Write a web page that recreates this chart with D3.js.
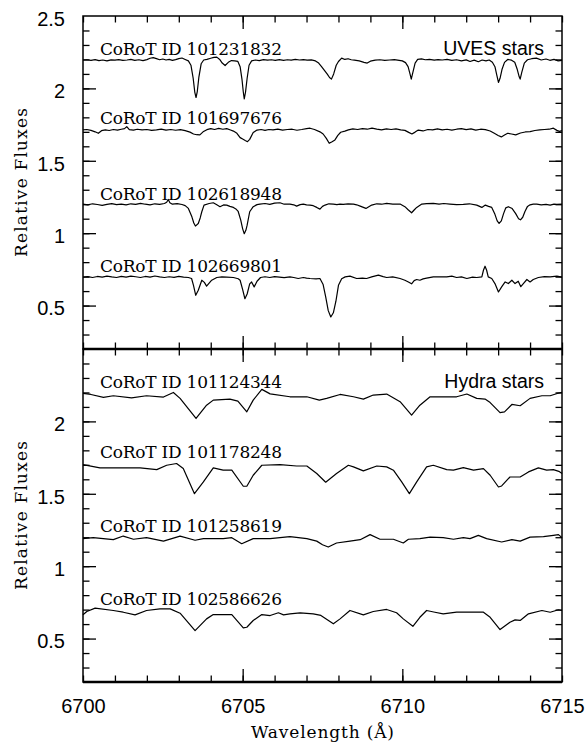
<!DOCTYPE html>
<meta charset="utf-8">
<style>
    body { margin: 0; background: #fff; }
    .tick line { stroke: #000; stroke-width: 1.3px; }
    .spec { fill: none; stroke: #000; stroke-width: 1.2px; stroke-linejoin: round; }
    .frame { fill: none; stroke: #000; stroke-width: 1.5px; }
    .ticklab text { font-family: "Liberation Sans", Arial, Helvetica, sans-serif; font-size: 20px; fill: #000; }
    .serif { font-family: "DejaVu Serif", "Liberation Serif", serif; font-size: 17px; fill: #000; }
    .panel-title { font-family: "Liberation Sans", Arial, Helvetica, sans-serif; font-size: 19.5px; fill: #000; }
</style>
<body>
<script src="https://cdn.jsdelivr.net/npm/d3@7"></script>
<script>

    // ---- data (wavelength in Angstrom, relative flux) ----
    var uvesIds = ["CoRoT ID 101231832", "CoRoT ID 101697676", "CoRoT ID 102618948", "CoRoT ID 102669801"];
    var hydraIds = ["CoRoT ID 101124344", "CoRoT ID 101178248", "CoRoT ID 101258619", "CoRoT ID 102586626"];

    var xTickLabels = [6700, 6705, 6710, 6715];
    var yTickLabelsTop = [0.5, 1, 1.5, 2, 2.5];
    var yTickLabelsBottom = [0.5, 1, 1.5, 2];

    var uves101231832 = [[6700.0,2.196],[6700.12,2.198],[6700.25,2.194],[6700.38,2.199],[6700.5,2.192],[6700.62,2.196],[6700.75,2.190],[6700.88,2.197],[6701.0,2.195],[6701.12,2.199],[6701.25,2.193],[6701.38,2.196],[6701.5,2.200],[6701.62,2.194],[6701.75,2.198],[6701.88,2.192],[6702.0,2.199],[6702.1,2.208],[6702.2,2.212],[6702.3,2.206],[6702.4,2.198],[6702.5,2.203],[6702.6,2.196],[6702.7,2.200],[6702.8,2.194],[6702.9,2.199],[6703.0,2.206],[6703.1,2.210],[6703.2,2.200],[6703.3,2.190],[6703.38,2.160],[6703.45,2.070],[6703.50,1.975],[6703.54,1.937],[6703.58,1.980],[6703.63,2.080],[6703.70,2.170],[6703.78,2.196],[6703.88,2.200],[6704.0,2.208],[6704.1,2.214],[6704.19,2.216],[6704.28,2.200],[6704.36,2.175],[6704.45,2.158],[6704.55,2.180],[6704.65,2.192],[6704.75,2.190],[6704.85,2.186],[6704.92,2.150],[6704.98,2.060],[6705.02,1.975],[6705.05,1.928],[6705.09,1.975],[6705.14,2.070],[6705.20,2.160],[6705.28,2.190],[6705.4,2.196],[6705.52,2.192],[6705.65,2.199],[6705.78,2.195],[6705.9,2.198],[6706.02,2.193],[6706.15,2.199],[6706.28,2.194],[6706.4,2.198],[6706.52,2.195],[6706.65,2.200],[6706.78,2.196],[6706.9,2.199],[6707.02,2.195],[6707.15,2.197],[6707.28,2.190],[6707.38,2.175],[6707.47,2.151],[6707.56,2.125],[6707.65,2.098],[6707.72,2.075],[6707.78,2.064],[6707.85,2.100],[6707.93,2.160],[6708.0,2.186],[6708.1,2.209],[6708.2,2.200],[6708.3,2.205],[6708.4,2.198],[6708.5,2.195],[6708.65,2.190],[6708.8,2.180],[6708.9,2.175],[6709.0,2.188],[6709.15,2.195],[6709.3,2.198],[6709.45,2.193],[6709.6,2.196],[6709.75,2.199],[6709.9,2.194],[6710.0,2.190],[6710.1,2.178],[6710.18,2.150],[6710.24,2.100],[6710.28,2.064],[6710.33,2.110],[6710.40,2.175],[6710.48,2.200],[6710.6,2.204],[6710.72,2.198],[6710.85,2.201],[6711.0,2.195],[6711.12,2.199],[6711.25,2.196],[6711.4,2.201],[6711.55,2.194],[6711.7,2.198],[6711.85,2.190],[6712.0,2.197],[6712.12,2.186],[6712.25,2.195],[6712.38,2.184],[6712.5,2.196],[6712.62,2.190],[6712.72,2.196],[6712.82,2.181],[6712.9,2.150],[6712.96,2.090],[6713.01,2.041],[6713.06,2.070],[6713.12,2.130],[6713.2,2.180],[6713.3,2.200],[6713.42,2.195],[6713.52,2.181],[6713.6,2.130],[6713.66,2.080],[6713.69,2.064],[6713.74,2.110],[6713.82,2.175],[6713.92,2.198],[6714.05,2.205],[6714.2,2.209],[6714.35,2.196],[6714.5,2.203],[6714.62,2.194],[6714.75,2.200],[6714.88,2.190],[6715.0,2.194]];

    var uves101697676 = [[6700.0,1.713],[6700.12,1.716],[6700.25,1.710],[6700.38,1.700],[6700.48,1.690],[6700.58,1.708],[6700.7,1.713],[6700.82,1.709],[6700.95,1.716],[6701.08,1.712],[6701.2,1.718],[6701.3,1.722],[6701.37,1.736],[6701.45,1.715],[6701.58,1.712],[6701.7,1.718],[6701.85,1.713],[6702.0,1.716],[6702.15,1.710],[6702.3,1.714],[6702.45,1.719],[6702.6,1.712],[6702.75,1.716],[6702.9,1.711],[6703.05,1.715],[6703.2,1.708],[6703.35,1.698],[6703.46,1.685],[6703.56,1.680],[6703.66,1.679],[6703.76,1.700],[6703.88,1.715],[6704.0,1.722],[6704.12,1.716],[6704.25,1.724],[6704.38,1.718],[6704.5,1.722],[6704.62,1.713],[6704.71,1.705],[6704.82,1.690],[6704.92,1.660],[6705.0,1.650],[6705.08,1.640],[6705.15,1.632],[6705.22,1.648],[6705.33,1.695],[6705.45,1.712],[6705.58,1.716],[6705.7,1.710],[6705.82,1.716],[6705.95,1.713],[6706.1,1.719],[6706.25,1.712],[6706.4,1.716],[6706.55,1.718],[6706.7,1.711],[6706.85,1.716],[6707.0,1.722],[6707.11,1.725],[6707.25,1.716],[6707.42,1.700],[6707.52,1.685],[6707.62,1.655],[6707.71,1.621],[6707.8,1.632],[6707.89,1.644],[6707.98,1.675],[6708.07,1.697],[6708.2,1.705],[6708.31,1.713],[6708.45,1.720],[6708.6,1.716],[6708.75,1.722],[6708.9,1.718],[6709.05,1.726],[6709.2,1.719],[6709.35,1.714],[6709.5,1.720],[6709.65,1.716],[6709.8,1.720],[6709.95,1.713],[6710.08,1.710],[6710.2,1.696],[6710.3,1.685],[6710.4,1.698],[6710.5,1.712],[6710.65,1.706],[6710.8,1.716],[6710.95,1.713],[6711.1,1.720],[6711.25,1.713],[6711.4,1.718],[6711.55,1.712],[6711.7,1.718],[6711.85,1.722],[6712.0,1.715],[6712.15,1.720],[6712.3,1.712],[6712.45,1.718],[6712.6,1.715],[6712.75,1.706],[6712.88,1.690],[6713.0,1.675],[6713.1,1.665],[6713.2,1.678],[6713.3,1.690],[6713.42,1.685],[6713.55,1.679],[6713.7,1.692],[6713.85,1.699],[6714.0,1.701],[6714.15,1.709],[6714.3,1.713],[6714.45,1.716],[6714.6,1.718],[6714.73,1.725],[6714.84,1.710],[6714.92,1.703],[6715.0,1.708]];

    var uves102618948 = [[6700.0,1.200],[6700.15,1.196],[6700.3,1.203],[6700.45,1.198],[6700.6,1.192],[6700.75,1.199],[6700.9,1.204],[6701.05,1.197],[6701.2,1.201],[6701.35,1.195],[6701.5,1.203],[6701.65,1.199],[6701.8,1.206],[6701.95,1.200],[6702.1,1.196],[6702.25,1.203],[6702.4,1.199],[6702.55,1.205],[6702.62,1.214],[6702.67,1.233],[6702.72,1.210],[6702.8,1.200],[6702.95,1.204],[6703.1,1.198],[6703.2,1.190],[6703.3,1.171],[6703.41,1.113],[6703.47,1.070],[6703.52,1.049],[6703.61,1.067],[6703.67,1.105],[6703.72,1.148],[6703.79,1.194],[6703.95,1.205],[6704.08,1.210],[6704.19,1.196],[6704.29,1.183],[6704.4,1.195],[6704.5,1.194],[6704.6,1.185],[6704.71,1.178],[6704.80,1.165],[6704.86,1.150],[6704.94,1.090],[6705.0,1.030],[6705.05,0.996],[6705.10,1.020],[6705.14,1.055],[6705.22,1.148],[6705.33,1.183],[6705.45,1.197],[6705.54,1.201],[6705.7,1.205],[6705.85,1.199],[6706.0,1.207],[6706.17,1.210],[6706.3,1.200],[6706.48,1.201],[6706.6,1.196],[6706.69,1.187],[6706.8,1.197],[6706.9,1.201],[6707.0,1.196],[6707.11,1.194],[6707.21,1.190],[6707.32,1.178],[6707.42,1.166],[6707.5,1.185],[6707.58,1.194],[6707.7,1.203],[6707.84,1.201],[6707.95,1.197],[6708.05,1.201],[6708.15,1.199],[6708.3,1.203],[6708.47,1.201],[6708.57,1.196],[6708.68,1.187],[6708.86,1.171],[6709.04,1.194],[6709.2,1.203],[6709.35,1.200],[6709.51,1.206],[6709.7,1.201],[6709.93,1.201],[6710.08,1.183],[6710.19,1.160],[6710.29,1.141],[6710.37,1.160],[6710.45,1.178],[6710.61,1.201],[6710.76,1.204],[6710.97,1.206],[6711.15,1.201],[6711.3,1.205],[6711.49,1.201],[6711.7,1.197],[6711.91,1.199],[6712.1,1.203],[6712.33,1.194],[6712.49,1.178],[6712.6,1.194],[6712.7,1.185],[6712.8,1.178],[6712.9,1.130],[6712.97,1.085],[6713.03,1.067],[6713.1,1.085],[6713.17,1.135],[6713.24,1.175],[6713.32,1.183],[6713.44,1.170],[6713.55,1.135],[6713.64,1.100],[6713.70,1.092],[6713.77,1.110],[6713.84,1.150],[6713.92,1.185],[6714.0,1.196],[6714.1,1.201],[6714.21,1.200],[6714.35,1.196],[6714.5,1.199],[6714.63,1.194],[6714.75,1.201],[6714.84,1.199],[6715.0,1.200]];

    var uves102669801 = [[6700.0,0.697],[6700.15,0.700],[6700.3,0.694],[6700.45,0.701],[6700.6,0.697],[6700.75,0.703],[6700.9,0.698],[6701.05,0.694],[6701.2,0.702],[6701.35,0.697],[6701.5,0.703],[6701.65,0.699],[6701.8,0.694],[6701.95,0.701],[6702.1,0.697],[6702.25,0.704],[6702.4,0.698],[6702.55,0.694],[6702.7,0.699],[6702.85,0.695],[6703.0,0.701],[6703.15,0.696],[6703.3,0.694],[6703.40,0.687],[6703.46,0.640],[6703.53,0.571],[6703.61,0.606],[6703.72,0.675],[6703.80,0.660],[6703.87,0.634],[6703.95,0.655],[6704.03,0.675],[6704.19,0.694],[6704.35,0.698],[6704.5,0.696],[6704.71,0.694],[6704.86,0.685],[6704.92,0.675],[6705.0,0.610],[6705.07,0.547],[6705.14,0.580],[6705.22,0.650],[6705.28,0.663],[6705.36,0.629],[6705.45,0.668],[6705.56,0.694],[6705.7,0.699],[6705.85,0.694],[6706.0,0.700],[6706.15,0.697],[6706.3,0.693],[6706.48,0.698],[6706.6,0.694],[6706.74,0.687],[6706.9,0.694],[6707.0,0.690],[6707.11,0.687],[6707.3,0.685],[6707.42,0.687],[6707.52,0.645],[6707.60,0.560],[6707.68,0.465],[6707.76,0.421],[6707.84,0.450],[6707.92,0.530],[6708.0,0.640],[6708.1,0.685],[6708.21,0.698],[6708.36,0.703],[6708.57,0.687],[6708.75,0.690],[6708.88,0.687],[6709.04,0.698],[6709.25,0.710],[6709.4,0.700],[6709.51,0.694],[6709.7,0.698],[6709.93,0.687],[6710.08,0.675],[6710.19,0.663],[6710.29,0.650],[6710.37,0.672],[6710.45,0.680],[6710.55,0.675],[6710.65,0.684],[6710.76,0.690],[6710.97,0.698],[6711.2,0.699],[6711.39,0.698],[6711.55,0.703],[6711.70,0.694],[6711.85,0.698],[6712.02,0.687],[6712.2,0.696],[6712.33,0.694],[6712.49,0.698],[6712.54,0.744],[6712.59,0.772],[6712.64,0.744],[6712.69,0.698],[6712.80,0.687],[6712.90,0.652],[6713.01,0.594],[6713.11,0.629],[6713.22,0.663],[6713.32,0.652],[6713.43,0.675],[6713.53,0.652],[6713.63,0.668],[6713.71,0.630],[6713.79,0.652],[6713.90,0.680],[6714.0,0.663],[6714.10,0.680],[6714.26,0.694],[6714.45,0.700],[6714.63,0.698],[6714.84,0.703],[6715.0,0.697]];

    var hydra101124344 = [[6700.0,2.193],[6700.25,2.186],[6700.64,2.166],[6700.95,2.177],[6701.52,2.163],[6701.99,2.177],[6702.52,2.168],[6702.83,2.200],[6703.04,2.159],[6703.54,2.020],[6703.87,2.112],[6704.08,2.147],[6704.60,2.154],[6704.85,2.140],[6705.13,2.066],[6705.33,2.147],[6705.60,2.221],[6705.86,2.190],[6706.48,2.170],[6707.01,2.170],[6707.40,2.147],[6707.63,2.159],[6708.05,2.186],[6708.47,2.170],[6708.78,2.154],[6709.09,2.182],[6709.51,2.189],[6709.93,2.136],[6710.29,2.043],[6710.55,2.112],[6710.87,2.170],[6711.28,2.170],[6711.70,2.170],[6712.02,2.189],[6712.33,2.159],[6712.59,2.154],[6712.75,2.130],[6713.06,2.061],[6713.20,2.066],[6713.43,2.117],[6713.69,2.108],[6714.00,2.159],[6714.37,2.177],[6714.63,2.177],[6714.85,2.193],[6715.0,2.200]];

    var hydra101178248 = [[6700.0,1.702],[6700.53,1.679],[6701.16,1.679],[6701.79,1.679],[6702.31,1.667],[6702.62,1.697],[6702.93,1.709],[6703.14,1.674],[6703.49,1.501],[6703.77,1.582],[6704.08,1.679],[6704.39,1.663],[6704.66,1.663],[6705.02,1.552],[6705.13,1.552],[6705.33,1.628],[6705.60,1.697],[6706.17,1.702],[6706.69,1.692],[6707.01,1.692],[6707.32,1.640],[6707.60,1.580],[6707.94,1.640],[6708.31,1.697],[6708.47,1.686],[6708.78,1.658],[6709.20,1.692],[6709.51,1.686],[6709.72,1.663],[6709.98,1.582],[6710.22,1.501],[6710.45,1.582],[6710.76,1.686],[6710.97,1.697],[6711.39,1.667],[6711.60,1.663],[6711.91,1.681],[6712.23,1.663],[6712.54,1.674],[6712.75,1.628],[6713.01,1.547],[6713.11,1.554],[6713.37,1.616],[6713.69,1.616],[6713.95,1.651],[6714.26,1.679],[6714.52,1.663],[6714.73,1.667],[6714.90,1.655],[6715.0,1.640]];

    var hydra101258619 = [[6700.0,1.190],[6700.32,1.197],[6700.95,1.183],[6701.26,1.208],[6701.58,1.186],[6701.99,1.197],[6702.52,1.173],[6703.04,1.208],[6703.51,1.179],[6703.77,1.190],[6704.39,1.190],[6704.66,1.197],[6704.97,1.155],[6705.33,1.190],[6705.86,1.190],[6706.48,1.204],[6707.01,1.190],[6707.32,1.173],[6707.50,1.148],[6707.68,1.132],[6707.94,1.160],[6708.36,1.173],[6708.68,1.183],[6708.99,1.218],[6709.30,1.186],[6709.72,1.186],[6710.03,1.160],[6710.19,1.186],[6710.55,1.190],[6710.87,1.201],[6711.28,1.197],[6711.60,1.186],[6711.91,1.197],[6712.12,1.190],[6712.38,1.213],[6712.64,1.190],[6713.11,1.167],[6713.43,1.183],[6713.69,1.173],[6714.00,1.201],[6714.42,1.204],[6714.73,1.213],[6714.89,1.218],[6715.0,1.197]];

    var hydra102586626 = [[6700.0,0.664],[6700.12,0.687],[6700.38,0.710],[6700.95,0.694],[6701.26,0.682],[6701.63,0.664],[6701.99,0.694],[6702.41,0.705],[6702.73,0.705],[6703.04,0.675],[6703.51,0.555],[6703.87,0.636],[6704.08,0.666],[6704.66,0.666],[6705.02,0.574],[6705.13,0.578],[6705.33,0.625],[6705.60,0.666],[6705.86,0.659],[6706.12,0.678],[6706.28,0.664],[6706.48,0.671],[6706.80,0.678],[6707.21,0.671],[6707.45,0.660],[6707.84,0.602],[6708.05,0.636],[6708.36,0.694],[6708.78,0.664],[6709.09,0.687],[6709.51,0.701],[6709.82,0.678],[6710.03,0.636],[6710.33,0.585],[6710.55,0.647],[6710.76,0.694],[6711.02,0.682],[6711.28,0.671],[6711.70,0.682],[6712.54,0.682],[6712.75,0.647],[6713.06,0.562],[6713.37,0.613],[6713.53,0.629],[6713.69,0.625],[6713.95,0.671],[6714.37,0.694],[6714.63,0.682],[6714.89,0.699],[6715.0,0.694]];

    var uvesSpectra = [uves101231832, uves101697676, uves102618948, uves102669801];
    var hydraSpectra = [hydra101124344, hydra101178248, hydra101258619, hydra102586626];

    // ---- layout ----
    var W = 586, H = 742;
    var left = 83, right = 562;
    var topY = 16, midY = 349, botY = 682;

    var svg = d3.select("body").append("svg")
        .attr("width", W)
        .attr("height", H);

    var x = d3.scaleLinear().domain([6700, 6715]).range([left, right]);

    var panels = [
        {name: "UVES stars", ids: uvesIds, spectra: uvesSpectra, y0: topY, y1: midY,
         yLabels: yTickLabelsTop, labelLevels: [2.232, 1.755, 1.229, 0.734]},
        {name: "Hydra stars", ids: hydraIds, spectra: hydraSpectra, y0: midY, y1: botY,
         yLabels: yTickLabelsBottom, labelLevels: [2.232, 1.748, 1.236, 0.735]}
    ];

    var minorX = d3.range(6700, 6715.5, 1);
    var minorY = d3.range(0.3, 2.45, 0.1);

    function noDomain(g) { g.select(".domain").remove(); }

    panels.forEach(function(p, pi) {
        var y = d3.scaleLinear().domain([0.2, 2.5]).range([p.y1, p.y0]);
        var g = svg.append("g");

        // inward ticks on all four sides
        g.append("g").attr("transform", "translate(0," + p.y1 + ")")
            .call(d3.axisBottom(x).tickValues(minorX).tickSize(-6.5).tickFormat("")).call(noDomain);
        g.append("g").attr("transform", "translate(0," + p.y1 + ")")
            .call(d3.axisBottom(x).tickValues([6705, 6710]).tickSize(-13).tickFormat("")).call(noDomain);
        g.append("g").attr("transform", "translate(0," + p.y0 + ")")
            .call(d3.axisTop(x).tickValues(minorX).tickSize(-6.5).tickFormat("")).call(noDomain);
        g.append("g").attr("transform", "translate(0," + p.y0 + ")")
            .call(d3.axisTop(x).tickValues([6705, 6710]).tickSize(-13).tickFormat("")).call(noDomain);

        g.append("g").attr("transform", "translate(" + left + ",0)")
            .call(d3.axisLeft(y).tickValues(minorY).tickSize(-6.5).tickFormat("")).call(noDomain);
        g.append("g").attr("transform", "translate(" + left + ",0)")
            .call(d3.axisLeft(y).tickValues([0.5, 1, 1.5, 2]).tickSize(-13).tickFormat("")).call(noDomain);
        g.append("g").attr("transform", "translate(" + right + ",0)")
            .call(d3.axisRight(y).tickValues(minorY).tickSize(-6.5).tickFormat("")).call(noDomain);
        g.append("g").attr("transform", "translate(" + right + ",0)")
            .call(d3.axisRight(y).tickValues([0.5, 1, 1.5, 2]).tickSize(-13).tickFormat("")).call(noDomain);

        // y tick labels
        g.append("g").attr("class", "ticklab")
            .attr("transform", "translate(" + left + ",3)")
            .call(d3.axisLeft(y).tickValues(p.yLabels).tickSize(0).tickPadding(18)
                .tickFormat(function(d) { return d; }))
            .call(noDomain);

        // axis title
        svg.append("text")
            .attr("class", "serif")
            .attr("transform", "translate(27," + ((p.y0 + p.y1) / 2) + ") rotate(-90)")
            .attr("text-anchor", "middle")
            .attr("textLength", 149)
            .attr("lengthAdjust", "spacing")
            .text("Relative Fluxes");

        // spectra
        var line = d3.line()
            .x(function(d) { return x(d[0]); })
            .y(function(d) { return y(d[1]); });

        g.selectAll("path.spec")
            .data(p.spectra)
            .enter().append("path")
            .attr("class", "spec")
            .attr("d", line);

        g.selectAll("text.star")
            .data(p.ids)
            .enter().append("text")
            .attr("class", "serif star")
            .attr("x", 100)
            .attr("y", function(d, i) { return y(p.labelLevels[i]); })
            .attr("textLength", 182)
            .attr("lengthAdjust", "spacing")
            .text(function(d) { return d; });

        g.append("text")
            .attr("class", "panel-title")
            .attr("x", 544)
            .attr("y", y(2.232))
            .attr("text-anchor", "end")
            .text(p.name);

        // frame
        g.append("rect")
            .attr("class", "frame")
            .attr("x", left).attr("y", p.y0)
            .attr("width", right - left).attr("height", p.y1 - p.y0);
    });

    // heavier separator and bottom axis line
    svg.append("line").attr("x1", left).attr("x2", right).attr("y1", midY).attr("y2", midY)
        .attr("stroke", "#000").attr("stroke-width", 2.4);
    svg.append("line").attr("x1", left).attr("x2", right).attr("y1", botY).attr("y2", botY)
        .attr("stroke", "#000").attr("stroke-width", 2.4);

    // x tick labels
    svg.append("g").attr("class", "ticklab")
        .attr("transform", "translate(0," + botY + ")")
        .call(d3.axisBottom(x).tickValues(xTickLabels).tickSize(0).tickPadding(17)
            .tickFormat(d3.format("d")))
        .call(noDomain);

    svg.append("text")
        .attr("class", "serif")
        .attr("x", (left + right) / 2)
        .attr("y", 738)
        .attr("text-anchor", "middle")
        .attr("textLength", 143)
        .attr("lengthAdjust", "spacing")
        .text("Wavelength (\u00C5)");

</script>
</body>
